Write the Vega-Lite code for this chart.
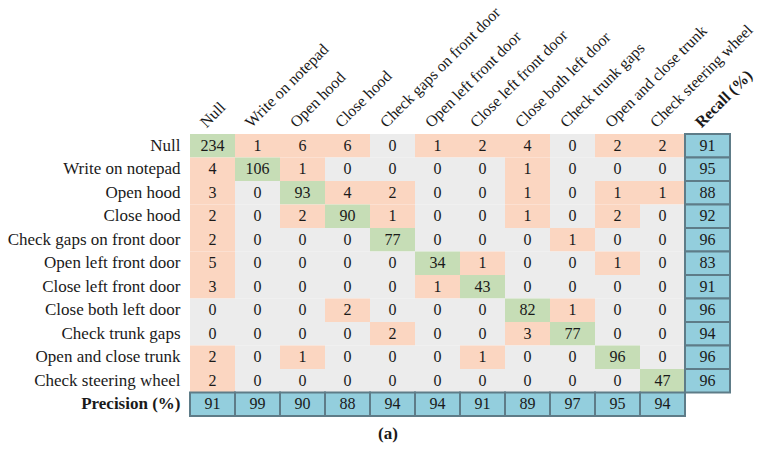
{
  "$schema": "https://vega.github.io/schema/vega-lite/v6.json",
  "width": 540,
  "height": 282,
  "autosize": {"type": "none"},
  "padding": {"left": 190, "top": 134, "right": 39, "bottom": 38},
  "background": "white",
  "config": {"view": {"stroke": null}, "font": "Liberation Serif"},
  "title": {"text": "(a)", "orient": "bottom", "offset": 9, "dx": -72, "fontSize": 17, "fontWeight": "bold", "font": "Liberation Serif", "color": "#1a1a1a", "anchor": "middle"},
  "data": {"values": [
    {"actual": "Null", "predicted": "Null", "count": 234},
    {"actual": "Null", "predicted": "Write on notepad", "count": 1},
    {"actual": "Null", "predicted": "Open hood", "count": 6},
    {"actual": "Null", "predicted": "Close hood", "count": 6},
    {"actual": "Null", "predicted": "Check gaps on front door", "count": 0},
    {"actual": "Null", "predicted": "Open left front door", "count": 1},
    {"actual": "Null", "predicted": "Close left front door", "count": 2},
    {"actual": "Null", "predicted": "Close both left door", "count": 4},
    {"actual": "Null", "predicted": "Check trunk gaps", "count": 0},
    {"actual": "Null", "predicted": "Open and close trunk", "count": 2},
    {"actual": "Null", "predicted": "Check steering wheel", "count": 2},
    {"actual": "Null", "predicted": "Recall (%)", "count": 91},
    {"actual": "Write on notepad", "predicted": "Null", "count": 4},
    {"actual": "Write on notepad", "predicted": "Write on notepad", "count": 106},
    {"actual": "Write on notepad", "predicted": "Open hood", "count": 1},
    {"actual": "Write on notepad", "predicted": "Close hood", "count": 0},
    {"actual": "Write on notepad", "predicted": "Check gaps on front door", "count": 0},
    {"actual": "Write on notepad", "predicted": "Open left front door", "count": 0},
    {"actual": "Write on notepad", "predicted": "Close left front door", "count": 0},
    {"actual": "Write on notepad", "predicted": "Close both left door", "count": 1},
    {"actual": "Write on notepad", "predicted": "Check trunk gaps", "count": 0},
    {"actual": "Write on notepad", "predicted": "Open and close trunk", "count": 0},
    {"actual": "Write on notepad", "predicted": "Check steering wheel", "count": 0},
    {"actual": "Write on notepad", "predicted": "Recall (%)", "count": 95},
    {"actual": "Open hood", "predicted": "Null", "count": 3},
    {"actual": "Open hood", "predicted": "Write on notepad", "count": 0},
    {"actual": "Open hood", "predicted": "Open hood", "count": 93},
    {"actual": "Open hood", "predicted": "Close hood", "count": 4},
    {"actual": "Open hood", "predicted": "Check gaps on front door", "count": 2},
    {"actual": "Open hood", "predicted": "Open left front door", "count": 0},
    {"actual": "Open hood", "predicted": "Close left front door", "count": 0},
    {"actual": "Open hood", "predicted": "Close both left door", "count": 1},
    {"actual": "Open hood", "predicted": "Check trunk gaps", "count": 0},
    {"actual": "Open hood", "predicted": "Open and close trunk", "count": 1},
    {"actual": "Open hood", "predicted": "Check steering wheel", "count": 1},
    {"actual": "Open hood", "predicted": "Recall (%)", "count": 88},
    {"actual": "Close hood", "predicted": "Null", "count": 2},
    {"actual": "Close hood", "predicted": "Write on notepad", "count": 0},
    {"actual": "Close hood", "predicted": "Open hood", "count": 2},
    {"actual": "Close hood", "predicted": "Close hood", "count": 90},
    {"actual": "Close hood", "predicted": "Check gaps on front door", "count": 1},
    {"actual": "Close hood", "predicted": "Open left front door", "count": 0},
    {"actual": "Close hood", "predicted": "Close left front door", "count": 0},
    {"actual": "Close hood", "predicted": "Close both left door", "count": 1},
    {"actual": "Close hood", "predicted": "Check trunk gaps", "count": 0},
    {"actual": "Close hood", "predicted": "Open and close trunk", "count": 2},
    {"actual": "Close hood", "predicted": "Check steering wheel", "count": 0},
    {"actual": "Close hood", "predicted": "Recall (%)", "count": 92},
    {"actual": "Check gaps on front door", "predicted": "Null", "count": 2},
    {"actual": "Check gaps on front door", "predicted": "Write on notepad", "count": 0},
    {"actual": "Check gaps on front door", "predicted": "Open hood", "count": 0},
    {"actual": "Check gaps on front door", "predicted": "Close hood", "count": 0},
    {"actual": "Check gaps on front door", "predicted": "Check gaps on front door", "count": 77},
    {"actual": "Check gaps on front door", "predicted": "Open left front door", "count": 0},
    {"actual": "Check gaps on front door", "predicted": "Close left front door", "count": 0},
    {"actual": "Check gaps on front door", "predicted": "Close both left door", "count": 0},
    {"actual": "Check gaps on front door", "predicted": "Check trunk gaps", "count": 1},
    {"actual": "Check gaps on front door", "predicted": "Open and close trunk", "count": 0},
    {"actual": "Check gaps on front door", "predicted": "Check steering wheel", "count": 0},
    {"actual": "Check gaps on front door", "predicted": "Recall (%)", "count": 96},
    {"actual": "Open left front door", "predicted": "Null", "count": 5},
    {"actual": "Open left front door", "predicted": "Write on notepad", "count": 0},
    {"actual": "Open left front door", "predicted": "Open hood", "count": 0},
    {"actual": "Open left front door", "predicted": "Close hood", "count": 0},
    {"actual": "Open left front door", "predicted": "Check gaps on front door", "count": 0},
    {"actual": "Open left front door", "predicted": "Open left front door", "count": 34},
    {"actual": "Open left front door", "predicted": "Close left front door", "count": 1},
    {"actual": "Open left front door", "predicted": "Close both left door", "count": 0},
    {"actual": "Open left front door", "predicted": "Check trunk gaps", "count": 0},
    {"actual": "Open left front door", "predicted": "Open and close trunk", "count": 1},
    {"actual": "Open left front door", "predicted": "Check steering wheel", "count": 0},
    {"actual": "Open left front door", "predicted": "Recall (%)", "count": 83},
    {"actual": "Close left front door", "predicted": "Null", "count": 3},
    {"actual": "Close left front door", "predicted": "Write on notepad", "count": 0},
    {"actual": "Close left front door", "predicted": "Open hood", "count": 0},
    {"actual": "Close left front door", "predicted": "Close hood", "count": 0},
    {"actual": "Close left front door", "predicted": "Check gaps on front door", "count": 0},
    {"actual": "Close left front door", "predicted": "Open left front door", "count": 1},
    {"actual": "Close left front door", "predicted": "Close left front door", "count": 43},
    {"actual": "Close left front door", "predicted": "Close both left door", "count": 0},
    {"actual": "Close left front door", "predicted": "Check trunk gaps", "count": 0},
    {"actual": "Close left front door", "predicted": "Open and close trunk", "count": 0},
    {"actual": "Close left front door", "predicted": "Check steering wheel", "count": 0},
    {"actual": "Close left front door", "predicted": "Recall (%)", "count": 91},
    {"actual": "Close both left door", "predicted": "Null", "count": 0},
    {"actual": "Close both left door", "predicted": "Write on notepad", "count": 0},
    {"actual": "Close both left door", "predicted": "Open hood", "count": 0},
    {"actual": "Close both left door", "predicted": "Close hood", "count": 2},
    {"actual": "Close both left door", "predicted": "Check gaps on front door", "count": 0},
    {"actual": "Close both left door", "predicted": "Open left front door", "count": 0},
    {"actual": "Close both left door", "predicted": "Close left front door", "count": 0},
    {"actual": "Close both left door", "predicted": "Close both left door", "count": 82},
    {"actual": "Close both left door", "predicted": "Check trunk gaps", "count": 1},
    {"actual": "Close both left door", "predicted": "Open and close trunk", "count": 0},
    {"actual": "Close both left door", "predicted": "Check steering wheel", "count": 0},
    {"actual": "Close both left door", "predicted": "Recall (%)", "count": 96},
    {"actual": "Check trunk gaps", "predicted": "Null", "count": 0},
    {"actual": "Check trunk gaps", "predicted": "Write on notepad", "count": 0},
    {"actual": "Check trunk gaps", "predicted": "Open hood", "count": 0},
    {"actual": "Check trunk gaps", "predicted": "Close hood", "count": 0},
    {"actual": "Check trunk gaps", "predicted": "Check gaps on front door", "count": 2},
    {"actual": "Check trunk gaps", "predicted": "Open left front door", "count": 0},
    {"actual": "Check trunk gaps", "predicted": "Close left front door", "count": 0},
    {"actual": "Check trunk gaps", "predicted": "Close both left door", "count": 3},
    {"actual": "Check trunk gaps", "predicted": "Check trunk gaps", "count": 77},
    {"actual": "Check trunk gaps", "predicted": "Open and close trunk", "count": 0},
    {"actual": "Check trunk gaps", "predicted": "Check steering wheel", "count": 0},
    {"actual": "Check trunk gaps", "predicted": "Recall (%)", "count": 94},
    {"actual": "Open and close trunk", "predicted": "Null", "count": 2},
    {"actual": "Open and close trunk", "predicted": "Write on notepad", "count": 0},
    {"actual": "Open and close trunk", "predicted": "Open hood", "count": 1},
    {"actual": "Open and close trunk", "predicted": "Close hood", "count": 0},
    {"actual": "Open and close trunk", "predicted": "Check gaps on front door", "count": 0},
    {"actual": "Open and close trunk", "predicted": "Open left front door", "count": 0},
    {"actual": "Open and close trunk", "predicted": "Close left front door", "count": 1},
    {"actual": "Open and close trunk", "predicted": "Close both left door", "count": 0},
    {"actual": "Open and close trunk", "predicted": "Check trunk gaps", "count": 0},
    {"actual": "Open and close trunk", "predicted": "Open and close trunk", "count": 96},
    {"actual": "Open and close trunk", "predicted": "Check steering wheel", "count": 0},
    {"actual": "Open and close trunk", "predicted": "Recall (%)", "count": 96},
    {"actual": "Check steering wheel", "predicted": "Null", "count": 2},
    {"actual": "Check steering wheel", "predicted": "Write on notepad", "count": 0},
    {"actual": "Check steering wheel", "predicted": "Open hood", "count": 0},
    {"actual": "Check steering wheel", "predicted": "Close hood", "count": 0},
    {"actual": "Check steering wheel", "predicted": "Check gaps on front door", "count": 0},
    {"actual": "Check steering wheel", "predicted": "Open left front door", "count": 0},
    {"actual": "Check steering wheel", "predicted": "Close left front door", "count": 0},
    {"actual": "Check steering wheel", "predicted": "Close both left door", "count": 0},
    {"actual": "Check steering wheel", "predicted": "Check trunk gaps", "count": 0},
    {"actual": "Check steering wheel", "predicted": "Open and close trunk", "count": 0},
    {"actual": "Check steering wheel", "predicted": "Check steering wheel", "count": 47},
    {"actual": "Check steering wheel", "predicted": "Recall (%)", "count": 96},
    {"actual": "Precision (%)", "predicted": "Null", "count": 91},
    {"actual": "Precision (%)", "predicted": "Write on notepad", "count": 99},
    {"actual": "Precision (%)", "predicted": "Open hood", "count": 90},
    {"actual": "Precision (%)", "predicted": "Close hood", "count": 88},
    {"actual": "Precision (%)", "predicted": "Check gaps on front door", "count": 94},
    {"actual": "Precision (%)", "predicted": "Open left front door", "count": 94},
    {"actual": "Precision (%)", "predicted": "Close left front door", "count": 91},
    {"actual": "Precision (%)", "predicted": "Close both left door", "count": 89},
    {"actual": "Precision (%)", "predicted": "Check trunk gaps", "count": 97},
    {"actual": "Precision (%)", "predicted": "Open and close trunk", "count": 95},
    {"actual": "Precision (%)", "predicted": "Check steering wheel", "count": 94}
  ]},
  "encoding": {
    "x": {
      "field": "predicted", "type": "nominal",
      "scale": {"domain": ["Null", "Write on notepad", "Open hood", "Close hood", "Check gaps on front door", "Open left front door", "Close left front door", "Close both left door", "Check trunk gaps", "Open and close trunk", "Check steering wheel", "Recall (%)"], "paddingInner": 0, "paddingOuter": 0},
      "axis": {"orient": "top", "title": null, "labelAngle": -45, "labelAlign": "left", "labelBaseline": "bottom", "ticks": false, "domain": false, "labelPadding": 4, "labelOffset": -4, "labelFontSize": 16, "labelFont": "Liberation Serif", "labelColor": "#1a1a1a", "labelLimit": 300,
        "labelFontWeight": {"condition": {"test": "datum.value === 'Recall (%)'", "value": "bold"}, "value": "normal"}}
    },
    "y": {
      "field": "actual", "type": "nominal",
      "scale": {"domain": ["Null", "Write on notepad", "Open hood", "Close hood", "Check gaps on front door", "Open left front door", "Close left front door", "Close both left door", "Check trunk gaps", "Open and close trunk", "Check steering wheel", "Precision (%)"], "paddingInner": 0, "paddingOuter": 0},
      "axis": {"title": null, "ticks": false, "domain": false, "labelPadding": 10, "labelFontSize": 17, "labelFont": "Liberation Serif", "labelColor": "#1a1a1a", "labelLimit": 300,
        "labelFontWeight": {"condition": {"test": "datum.value === 'Precision (%)'", "value": "bold"}, "value": "normal"}}
    }
  },
  "layer": [
    {
      "transform": [{"filter": "datum.predicted !== 'Recall (%)' && datum.actual !== 'Precision (%)'"}],
      "mark": {"type": "rect"},
      "encoding": {
        "fill": {"condition": [
          {"test": "datum.actual === datum.predicted", "value": "#c6ddb6"},
          {"test": "datum.count > 0", "value": "#fbd6c1"}
        ], "value": "#ececec"}
      }
    },
    {
      "transform": [{"filter": "datum.predicted === 'Recall (%)' || datum.actual === 'Precision (%)'"}],
      "mark": {"type": "rect", "fill": "#93cedd", "stroke": "#5e7c88", "strokeWidth": 2}
    },
    {
      "mark": {"type": "text", "fontSize": 16, "font": "Liberation Serif", "color": "#1a1a1a"},
      "encoding": {"text": {"field": "count", "type": "quantitative"}}
    }
  ]
}
